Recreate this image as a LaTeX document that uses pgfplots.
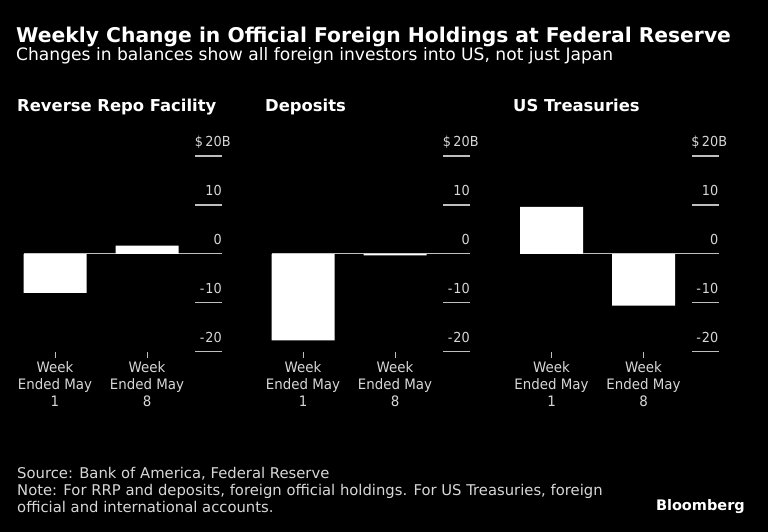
\documentclass[border=0pt]{standalone}
\usepackage{pgfplots}
\pgfplotsset{compat=1.18}
\usepackage{fontspec}
\setmainfont{DejaVu Sans}
\newfontfamily\condfont[FakeStretch=0.93]{DejaVu Sans}
\newfontfamily\headfont{DejaVu Sans}

\definecolor{tickgray}{RGB}{190,190,190}
\definecolor{labelgray}{RGB}{215,215,215}

\tikzset{zeroline/.style={draw=tickgray, line width=1.3pt}}

\pgfplotsset{
  panel/.style={
    scale only axis, width=198pt, height=195.7pt,
    xmin=-0.337, xmax=1.815, ymin=-20, ymax=20,
    axis line style={draw=none},
    clip=false,
    ybar, bar width=63pt,
    xtick={0,1},
    xticklabels={{Week\\Ended May\\1},{Week\\Ended May\\8}},
    xtick pos=left, xtick align=outside,
    x tick style={draw=tickgray, line width=0.8pt, /pgfplots/major tick length=6pt},
    xticklabel style={align=center, inner sep=0pt, yshift=-5.6pt, text=labelgray,
      font=\condfont\fontsize{14.4}{16.7}\selectfont},
    ytick={-20,-10,0,10,20},
    yticklabels={-\kern1pt20,-\kern1pt10,0,10,\$\kern2.5pt20\rlap{B}},
    ytick pos=right, yticklabel pos=right, ytick align=inside,
    y tick style={draw=tickgray, line width=1.3pt, /pgfplots/major tick length=27pt},
    yticklabel style={anchor=base east, inner sep=0pt, yshift=9.5pt, text=labelgray,
      font=\condfont\fontsize{13.8}{16}\selectfont},
  },
}

\begin{document}
\begin{tikzpicture}[x=1pt, y=1pt]
\fill[black] (0,0) rectangle (768,532);

\node[anchor=base west, inner sep=0pt, text=white,
  font=\headfont\bfseries\fontsize{20.3}{24}\selectfont] at (16,489)
  {Weekly Change in Official Foreign Holdings at Federal Reserve};
\node[anchor=base west, inner sep=0pt, text=white,
  font=\headfont\fontsize{17.1}{21}\selectfont] at (16,471.3)
  {Changes in balances show all foreign investors into US, not just Japan};

% panel titles
\foreach \px/\ttl in {17/Reverse Repo Facility, 265/Deposits, 513/US Treasuries}
  \node[anchor=base west, inner sep=0pt, text=white,
    font=\headfont\bfseries\fontsize{16.4}{19}\selectfont] at (\px,420.3) {\ttl};

% Reverse Repo Facility
\begin{axis}[panel, at={(24pt,180.3pt)}, anchor=south west]
  \draw[zeroline] (axis cs:-0.337,0) -- (axis cs:1.815,0);
  \addplot[fill=white, draw=none] coordinates {(0,-8.0) (1,1.7)};
\end{axis}

% Deposits
\begin{axis}[panel, at={(272pt,180.3pt)}, anchor=south west]
  \draw[zeroline] (axis cs:-0.337,0) -- (axis cs:1.815,0);
  \addplot[fill=white, draw=none] coordinates {(0,-17.7) (1,-0.3)};
\end{axis}

% US Treasuries
\begin{axis}[panel, at={(520.5pt,180.3pt)}, anchor=south west]
  \draw[zeroline] (axis cs:-0.337,0) -- (axis cs:1.815,0);
  \addplot[fill=white, draw=none] coordinates {(0,9.6) (1,-10.6)};
\end{axis}

% footer (base anchor = last line)
\node[anchor=base west, inner sep=0pt, text=labelgray, align=left,
  font=\headfont\fontsize{14.8}{16.9}\selectfont] at (17,19.3)
  {Source: Bank of America, Federal Reserve\\
   Note: For RRP and deposits, foreign official holdings. For US Treasuries, foreign\\
   official and international accounts.};
\node[anchor=base east, inner sep=0pt, text=white,
  font=\headfont\bfseries\fontsize{14.5}{17}\selectfont] at (745,21.3) {Bloomberg};
\end{tikzpicture}
\end{document}
